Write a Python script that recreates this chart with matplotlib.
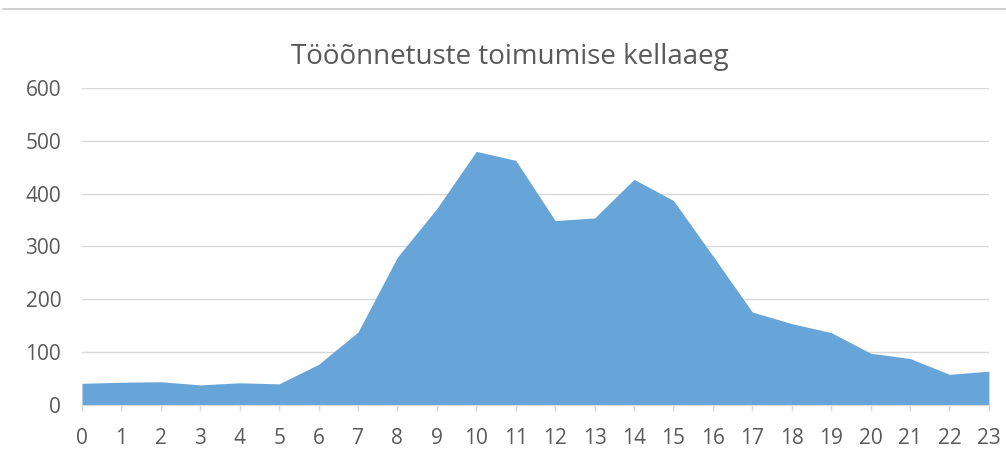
import matplotlib.pyplot as plt
from matplotlib.lines import Line2D

# tunnid ja õnnetuste arv
hours = list(range(24))
counts = [41, 43, 44, 38, 42, 40, 77, 138, 280, 372, 480, 463, 349, 354,
          427, 387, 282, 176, 154, 137, 98, 88, 58, 64]
yticks = [0, 100, 200, 300, 400, 500, 600]

plt.rcParams['font.family'] = ['Open Sans', 'DejaVu Sans']
gray = '#595959'
grid = '#d9d9d9'

fig = plt.figure(figsize=(10.06, 4.63), dpi=100)
ax = fig.add_axes([0.0815, 0.1253, 0.9015, 0.6847])

ax.fill_between(hours, counts, 0, color='#67a5d9', linewidth=0, zorder=2)
ax.set_xlim(0, 23)
ax.set_ylim(0, 600)
ax.set_xticks(hours)
ax.set_yticks(yticks)
ax.yaxis.grid(True, color=grid, linewidth=1, zorder=0)
ax.set_axisbelow(True)

for s in ['top', 'right', 'left']:
    ax.spines[s].set_visible(False)
ax.spines['bottom'].set_color(grid)
ax.spines['bottom'].set_zorder(3)

ax.tick_params(axis='x', colors=gray, labelsize=15, length=4.5, width=1, color=grid, pad=12)
ax.tick_params(axis='y', colors=gray, labelsize=15, length=0, pad=15)

fig.text(0.507, 1 - 64 / 463, 'Tööõnnetuste toimumise kellaaeg', ha='center', va='baseline',
         fontsize=20, color=gray)

# ülemine hall joon
fig.add_artist(Line2D([0.003, 1.0], [0.981, 0.981], color='#c8c8c8', linewidth=1.2))

fig.savefig('out.png', dpi=100)
